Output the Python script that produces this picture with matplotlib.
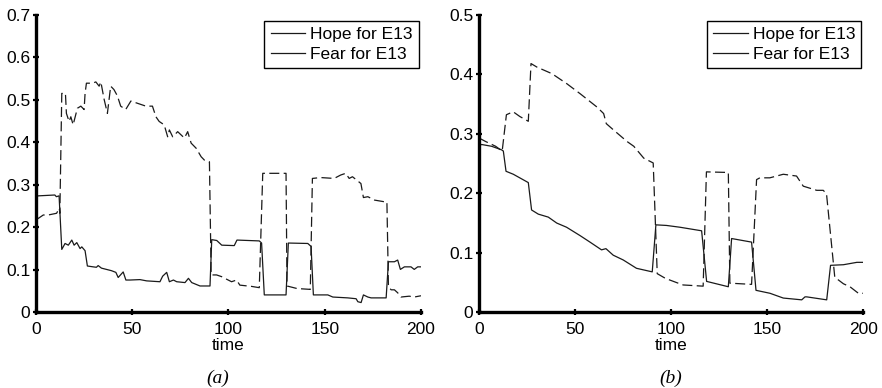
import matplotlib
matplotlib.use("Agg")
import matplotlib.pyplot as plt
from matplotlib.lines import Line2D

plt.rcParams['font.family'] = ['Liberation Sans', 'DejaVu Sans']

# panel (a)
a_hope_t = [0, 1.2, 9.8, 10.6, 12, 13.4, 15.1, 16.8, 18.6, 19.8, 21.2, 22.9, 23.8, 25.5, 26.7,
            29.7, 31.4, 32.3, 34, 36.6, 39.2, 41.5, 42.7, 43.9, 45.3, 46.7, 48.8, 54, 57.5,
            64.4, 65.8, 67.9, 69.3, 71.4, 73.1, 77.4, 79.2, 80.9, 85.2, 90.4, 91.3, 93.9,
            96.5, 103, 104.4, 116, 117.2, 118.6, 129.9, 131.1, 141.2, 142.9, 144.1, 151.6,
            154.2, 162, 166.3, 167.2, 168.9, 170.1, 172.4, 174.1, 181.9, 183.1, 186.2, 187.9,
            189.3, 191.4, 194.8, 196.5, 198.3, 200]
a_hope_v = [0.272, 0.274, 0.276, 0.272, 0.274, 0.148, 0.162, 0.158, 0.170, 0.158, 0.164, 0.150,
            0.154, 0.145, 0.109, 0.107, 0.106, 0.110, 0.104, 0.101, 0.098, 0.094, 0.082, 0.088,
            0.095, 0.076, 0.076, 0.077, 0.074, 0.072, 0.085, 0.094, 0.072, 0.076, 0.072, 0.070,
            0.080, 0.070, 0.062, 0.062, 0.171, 0.169, 0.158, 0.157, 0.170, 0.168, 0.163, 0.041,
            0.041, 0.163, 0.162, 0.155, 0.041, 0.041, 0.036, 0.034, 0.032, 0.025, 0.023, 0.041,
            0.036, 0.034, 0.034, 0.119, 0.119, 0.123, 0.101, 0.107, 0.107, 0.101, 0.107, 0.107]

a_fear_t = [0, 1.2, 3.8, 6.4, 10.7, 12.1, 12.4, 13.4, 15.3, 15.8, 17.2, 18.1, 19.3, 21.5, 23.3,
            25, 25.5, 26.2, 29.4, 31.1, 32.8, 33.7, 35.4, 37.1, 38.8, 40.5, 42.3, 44, 46.6,
            49.3, 51.9, 57.1, 60.5, 62.3, 64, 66.6, 68.4, 69.3, 71, 73.6, 77.1, 78.8, 80.6,
            83.2, 85.8, 87.5, 90.1, 91, 93.8, 96.4, 98.1, 101.6, 104.2, 105.9, 112, 116, 117.8,
            129.9, 130.4, 135.6, 142.5, 143.6, 147.9, 154.9, 158.3, 160.9, 162.7, 164.4, 168.8,
            170.1, 172.4, 175.9, 181.1, 182.3, 183.1, 184.5, 186.2, 187.9, 189.6, 193.9, 196.5, 200]
a_fear_v = [0.218, 0.221, 0.229, 0.229, 0.233, 0.245, 0.233, 0.515, 0.515, 0.468, 0.449, 0.460,
            0.441, 0.480, 0.485, 0.477, 0.515, 0.539, 0.539, 0.542, 0.532, 0.542, 0.501, 0.468,
            0.532, 0.524, 0.509, 0.485, 0.477, 0.497, 0.493, 0.485, 0.485, 0.460, 0.449, 0.441,
            0.413, 0.429, 0.413, 0.425, 0.410, 0.425, 0.398, 0.386, 0.366, 0.358, 0.354, 0.088,
            0.088, 0.084, 0.080, 0.072, 0.076, 0.064, 0.061, 0.058, 0.327, 0.327, 0.062, 0.056,
            0.054, 0.315, 0.317, 0.315, 0.323, 0.327, 0.315, 0.319, 0.303, 0.270, 0.272, 0.264,
            0.260, 0.260, 0.060, 0.053, 0.053, 0.046, 0.036, 0.038, 0.036, 0.039]

# panel (b)
b_hope_t = [0, 1.4, 6.6, 11.8, 12.7, 14.1, 17.9, 25.7, 27.4, 30.9, 36.1, 40.5, 45.6, 52.6, 57.8,
            63.8, 66.1, 69.9, 75.1, 82, 90.2, 92.1, 97.6, 104.6, 115.9, 118.5, 129.8, 131.5,
            141.9, 144.2, 151.5, 158.4, 168, 169.7, 170.6, 181, 183, 189.7, 196.7, 200]
b_hope_v = [0.280, 0.282, 0.279, 0.273, 0.271, 0.237, 0.232, 0.218, 0.172, 0.165, 0.160, 0.150,
            0.143, 0.129, 0.118, 0.105, 0.107, 0.096, 0.088, 0.074, 0.068, 0.147, 0.146, 0.143,
            0.137, 0.052, 0.043, 0.124, 0.118, 0.037, 0.032, 0.024, 0.021, 0.026, 0.026, 0.021,
            0.079, 0.080, 0.084, 0.084]

b_fear_t = [0, 3.5, 8.7, 12.1, 14.3, 17.8, 21.3, 25.7, 27.1, 30.2, 38, 45.8, 52.8, 61.4, 64.9,
            66.3, 70.2, 77.1, 80.6, 85.8, 90.7, 92.8, 97.1, 103.7, 106.3, 116.7, 118.4, 129.8,
            130.6, 141.9, 144.5, 146.2, 151.4, 154.9, 158.4, 165.3, 168.8, 175.8, 179.2, 180.9,
            185.2, 189.7, 193.1, 197.5, 200]
b_fear_v = [0.293, 0.287, 0.279, 0.271, 0.332, 0.337, 0.329, 0.321, 0.418, 0.412, 0.401, 0.384,
            0.367, 0.345, 0.334, 0.317, 0.306, 0.287, 0.279, 0.259, 0.251, 0.065, 0.057, 0.049,
            0.046, 0.044, 0.236, 0.235, 0.049, 0.047, 0.223, 0.226, 0.226, 0.229, 0.232, 0.229,
            0.212, 0.205, 0.205, 0.199, 0.059, 0.048, 0.043, 0.032, 0.032]

labels = ['Hope for E13', 'Fear for E13']
captions = ['(a)', '(b)']
ylims = [0.7, 0.5]

fig = plt.figure(figsize=(8.82, 3.88), dpi=100)
ax_a = fig.add_axes([0.0408, 0.195, 0.4365, 0.767])
ax_b = fig.add_axes([0.543, 0.195, 0.4357, 0.767])

panels = [(ax_a, a_hope_t, a_hope_v, a_fear_t, a_fear_v),
          (ax_b, b_hope_t, b_hope_v, b_fear_t, b_fear_v)]

for i, (ax, ht, hv, ft, fv) in enumerate(panels):
    ax.plot(ht, hv, color='#1a1a1a', lw=0.9)
    ax.plot(ft, fv, color='#1a1a1a', lw=0.9, dashes=(8, 3.5))
    ax.set_xlim(0, 200)
    ax.set_ylim(0, ylims[i])
    ax.set_xticks([0, 50, 100, 150, 200])
    ax.set_yticks([k / 10 for k in range(int(round(ylims[i] * 10)) + 1)])
    ax.set_yticklabels(['0'] + ['%.1f' % (k / 10) for k in range(1, int(round(ylims[i] * 10)) + 1)])
    ax.set_xticklabels(['0', '50', '100', '150', '200'])
    for s in ['top', 'right']:
        ax.spines[s].set_visible(False)
    for s in ['left', 'bottom']:
        ax.spines[s].set_linewidth(2.4)
        ax.spines[s].set_color('black')
    ax.tick_params(direction='inout', length=4, width=1.6, labelsize=12.5, colors='black')
    ax.tick_params(axis='x', pad=5)
    ax.tick_params(axis='y', pad=2)
    ax.set_xlabel('time', fontsize=12.5, labelpad=1)
    handles = [Line2D([], [], color='#1a1a1a', lw=0.9), Line2D([], [], color='#1a1a1a', lw=0.9)]
    leg = ax.legend(handles, labels, loc='upper right', bbox_to_anchor=(0.995, 0.979),
                    borderaxespad=0, fontsize=12.5, fancybox=False, framealpha=1,
                    edgecolor='black', handlelength=2.0, handletextpad=0.3,
                    labelspacing=0.25, borderpad=0.35)
    leg.get_frame().set_linewidth(1.0)

fig.text(218 / 882, 1 - 378 / 388, captions[0], family='Liberation Serif', style='italic',
         fontsize=14, ha='center', va='center')
fig.text(671 / 882, 1 - 378 / 388, captions[1], family='Liberation Serif', style='italic',
         fontsize=14, ha='center', va='center')

fig.savefig('out.png', dpi=100)
